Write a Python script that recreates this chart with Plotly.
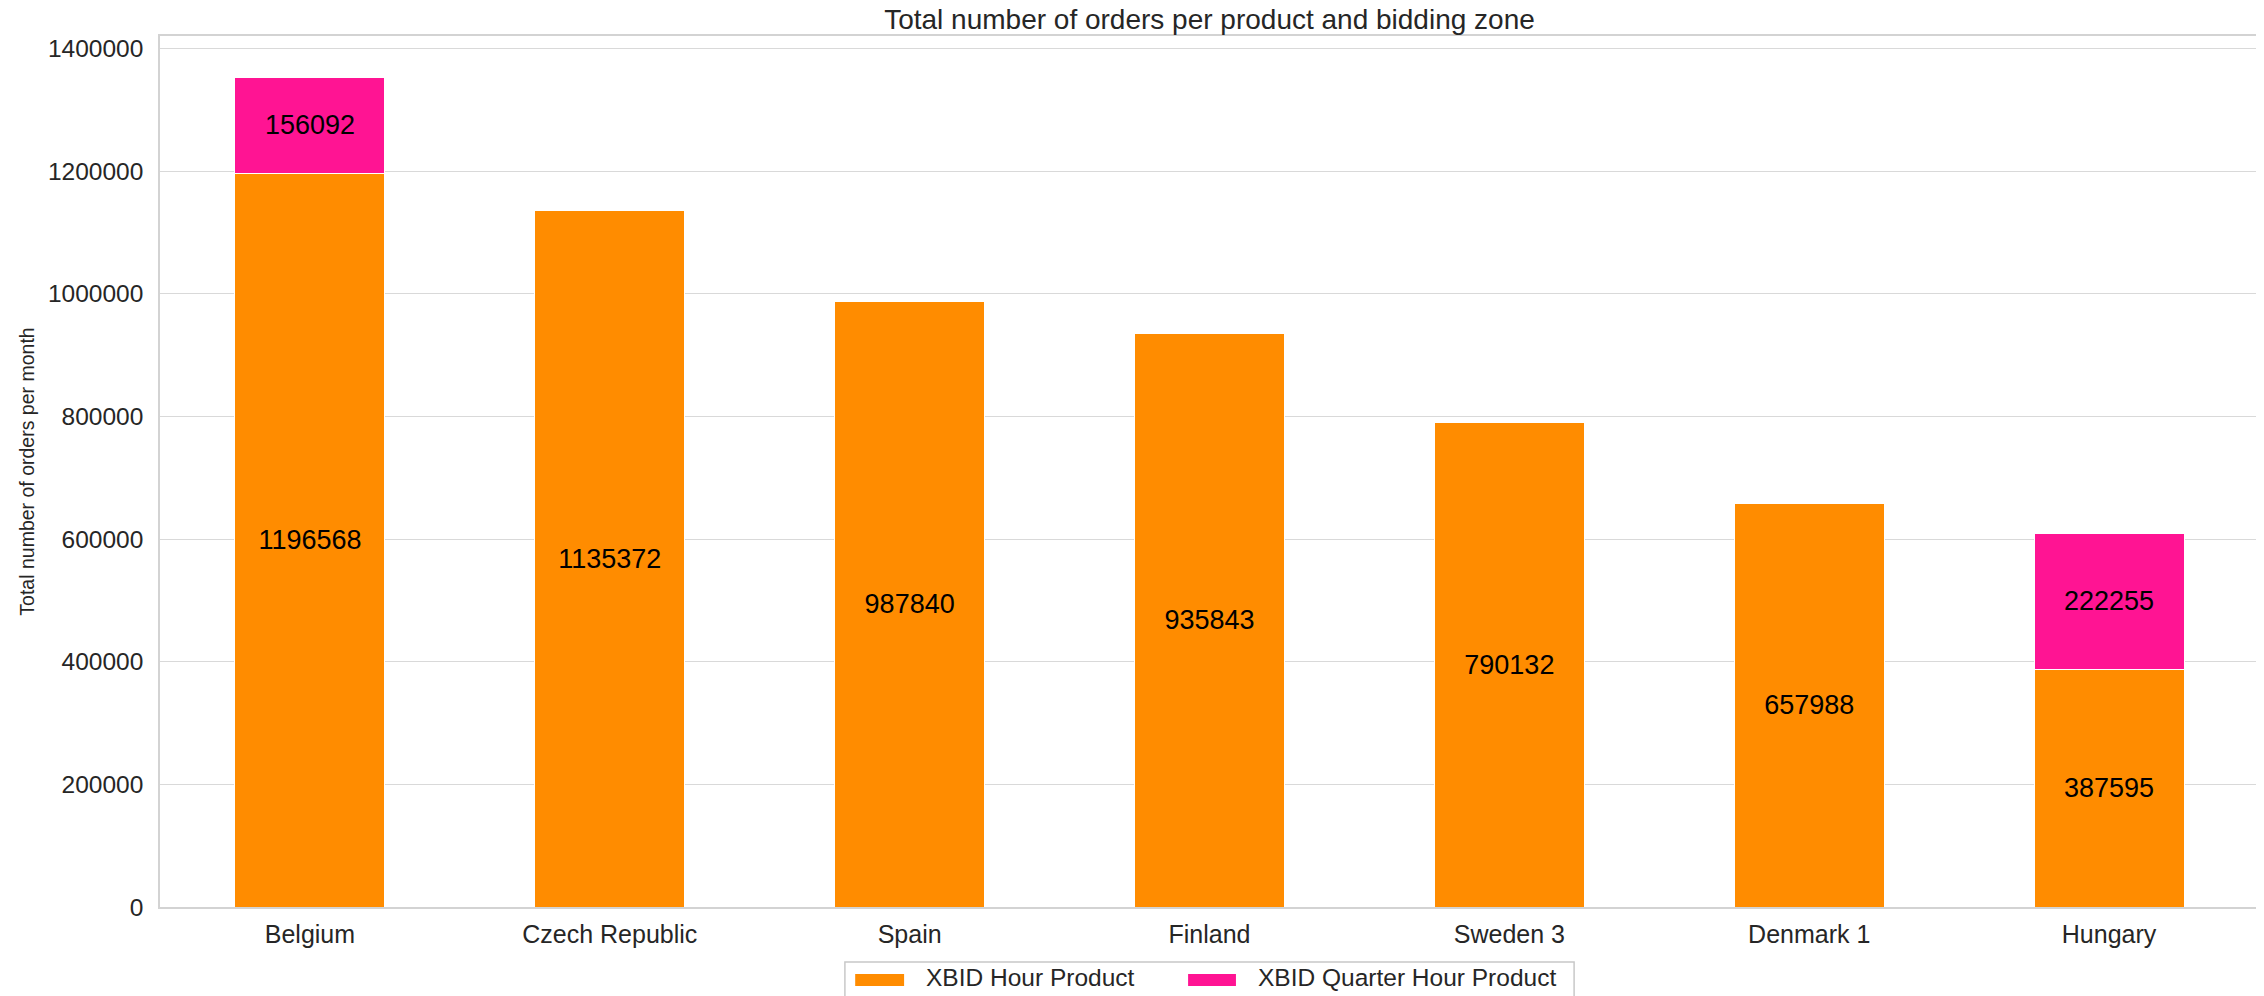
import plotly.graph_objects as go

zones = ["Belgium", "Czech Republic", "Spain", "Finland", "Sweden 3", "Denmark 1", "Hungary"]
hour_orders = [1196568, 1135372, 987840, 935843, 790132, 657988, 387595]
quarter_orders = [156092, 0, 0, 0, 0, 0, 222255]
y_ticks = [0, 200000, 400000, 600000, 800000, 1000000, 1200000, 1400000]
series_names = ["XBID Hour Product", "XBID Quarter Hour Product"]

ORANGE = "#FF8C00"
PINK = "#FF1493"
FONT = "Liberation Sans, Arial, sans-serif"
TXT = "#262626"

fig = go.Figure()
for name, vals, col in [(series_names[0], hour_orders, ORANGE),
                        (series_names[1], quarter_orders, PINK)]:
    fig.add_trace(go.Bar(
        x=zones, y=vals, name=name, showlegend=False,
        marker=dict(color=col, line=dict(color="white", width=1)),
        text=[str(v) if v > 0 else "" for v in vals],
        textposition="inside", insidetextanchor="middle",
        textfont=dict(color="black", size=27, family=FONT),
    ))

ymax = (hour_orders[0] + quarter_orders[0]) * 1.05

# custom legend (wide rectangular patches like the reference)
shapes = [
    dict(type="rect", xref="paper", yref="paper", x0=0.3263, x1=0.6737, y0=-0.0631, y1=-0.125,
         line=dict(color="#c8c8c8", width=1.5), fillcolor="white", layer="above"),
    dict(type="rect", xref="paper", yref="paper", x0=0.3312, x1=0.3545, y0=-0.0769, y1=-0.0907,
         line=dict(width=0), fillcolor=ORANGE, layer="above"),
    dict(type="rect", xref="paper", yref="paper", x0=0.4898, x1=0.5126, y0=-0.0769, y1=-0.0907,
         line=dict(width=0), fillcolor=PINK, layer="above"),
]
annotations = [
    dict(xref="paper", yref="paper", x=0.3640, y=-0.0815, xanchor="left", yanchor="middle",
         text=series_names[0], showarrow=False, font=dict(size=24.5, family=FONT, color=TXT)),
    dict(xref="paper", yref="paper", x=0.5222, y=-0.0815, xanchor="left", yanchor="middle",
         text=series_names[1], showarrow=False, font=dict(size=24.5, family=FONT, color=TXT)),
]

fig.update_layout(
    width=2256, height=988,
    barmode="stack", bargap=0.5,
    plot_bgcolor="white", paper_bgcolor="white",
    font=dict(family=FONT, color=TXT, size=24),
    margin=dict(l=152, r=5, t=28, b=89, autoexpand=False),
    title=dict(text="Total number of orders per product and bidding zone",
               xref="paper", x=0.5, xanchor="center",
               yref="container", y=0.9887, yanchor="middle",
               font=dict(size=28, color=TXT, family=FONT)),
    shapes=shapes, annotations=annotations,
    xaxis=dict(range=[-0.5, 6.5], showgrid=False, showline=True, linecolor="#d3d3d3",
               linewidth=1.5, mirror=True, ticks="", tickfont=dict(size=25),
               ticklabelstandoff=4, automargin=False),
    yaxis=dict(range=[0, ymax], tickvals=y_ticks, tickformat="d",
               showgrid=True, gridcolor="#d9d9d9", gridwidth=1.2,
               showline=True, linecolor="#d3d3d3", linewidth=1.5, mirror=True,
               zeroline=False, ticks="", tickfont=dict(size=24.5),
               ticklabelstandoff=10, automargin=False,
               title=dict(text="Total number of orders per month",
                          font=dict(size=19.5, family=FONT),
                          standoff=8)),
)

fig.write_html("out.html")
